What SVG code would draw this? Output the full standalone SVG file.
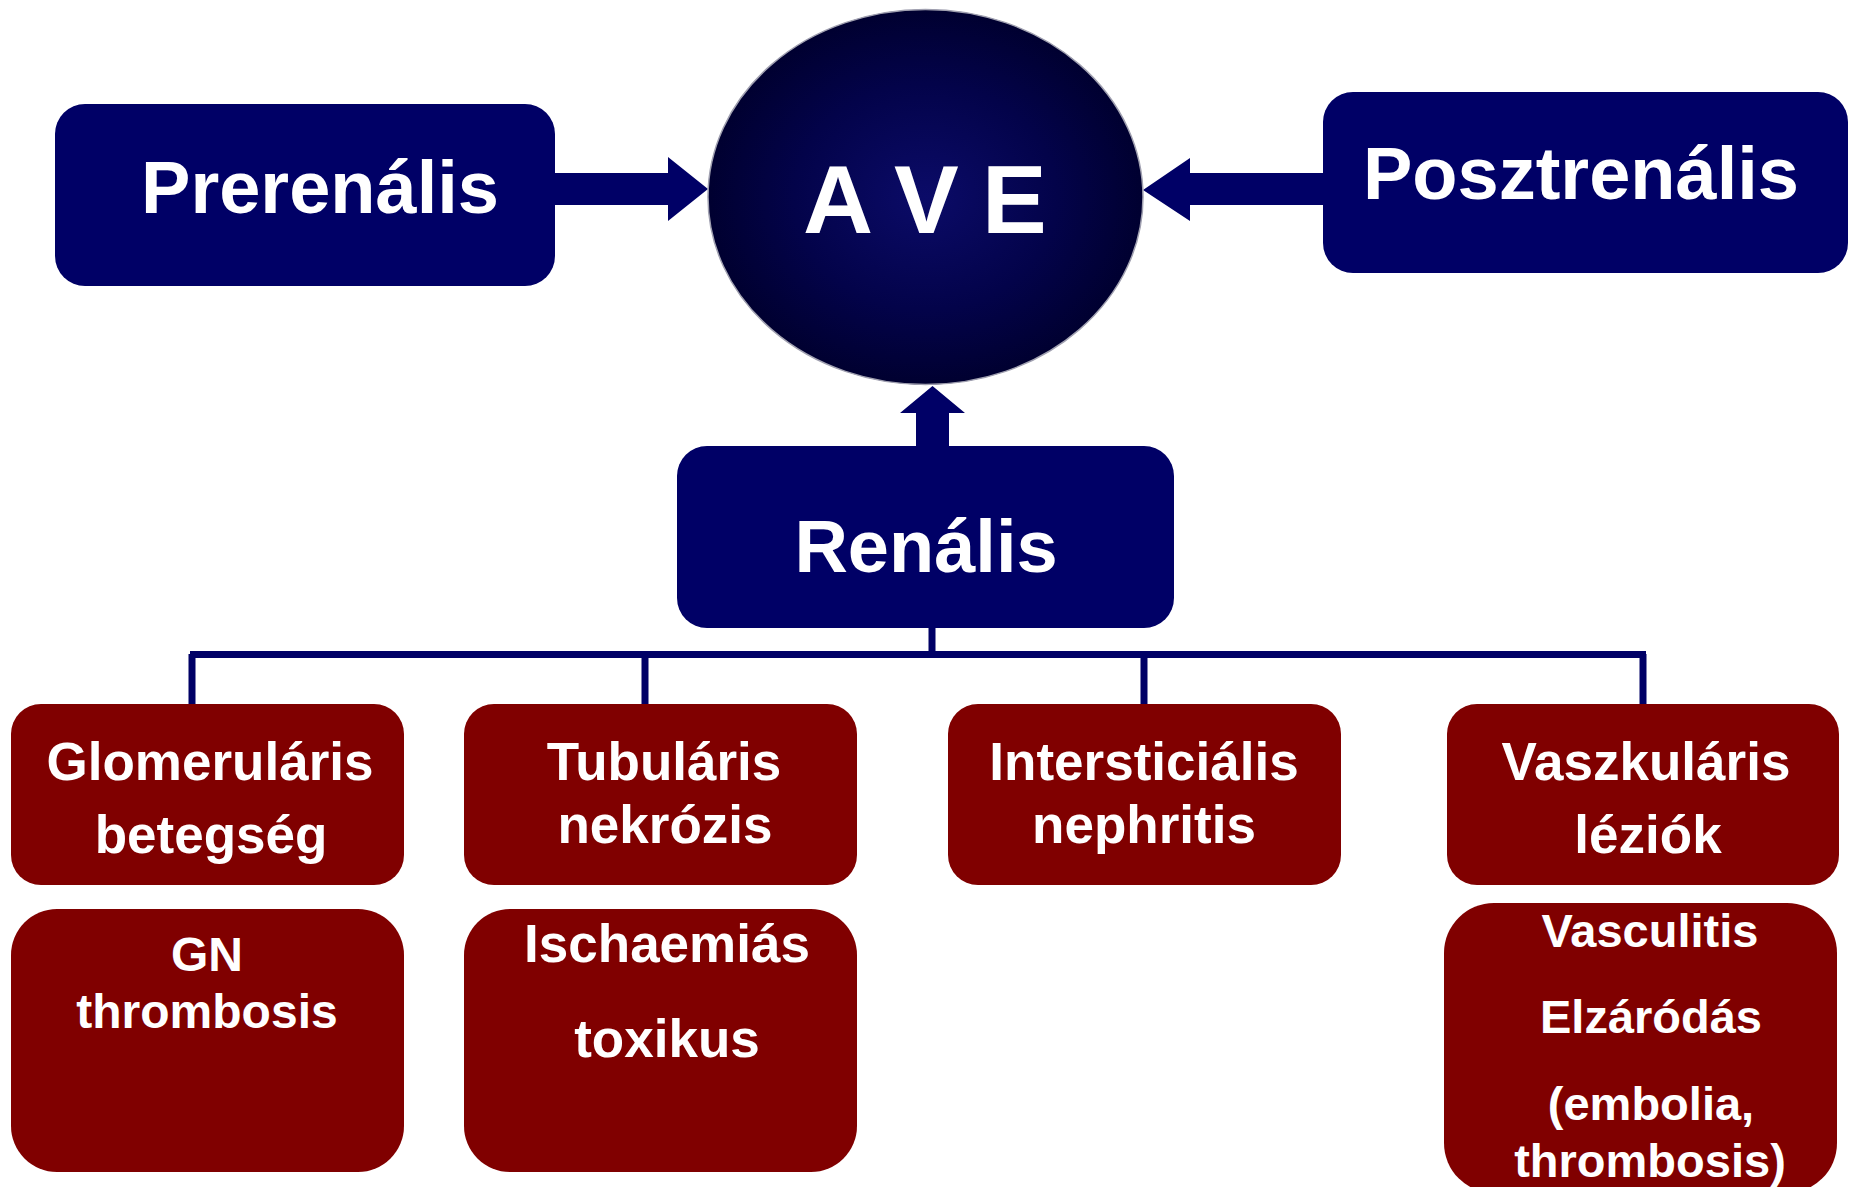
<svg xmlns="http://www.w3.org/2000/svg" width="1851" height="1187" viewBox="0 0 1851 1187">
<style>
.nav{fill:#000066}
.red{fill:#800000}
.t{font-family:"Liberation Sans",Arial,sans-serif;font-weight:bold;fill:#fff;text-anchor:middle}
.conn{stroke:#000066;stroke-width:7;fill:none}
</style>
<defs>
<radialGradient id="g" cx="50%" cy="50%" r="50%">
<stop offset="0" stop-color="#0b0b68"/>
<stop offset="0.6" stop-color="#03034a"/>
<stop offset="1" stop-color="#000030"/>
</radialGradient>
</defs>
<rect width="1851" height="1187" fill="#fff"/>
<g id="connectors">
<polygon class="nav" points="555,173 668,173 668,157 708,189 668,221 668,205 555,205"/>
<polygon class="nav" points="1323,173 1190,173 1190,158 1143,190 1190,221 1190,205 1323,205"/>
<polygon class="nav" points="916,446 916,413 900,413 932.5,386 965,413 949,413 949,446"/>
<path class="conn" d="M932,628V655M190,654.5H1646M192,654V704M645,654V704M1144,654V704M1643,654V704"/>
</g>
<g id="ave">
<ellipse cx="925.5" cy="197" rx="217.5" ry="187.5" fill="url(#g)" stroke="#a0a0b0" stroke-width="1.5"/>
<text class="t" style="text-anchor:start" font-size="97" y="233"><tspan x="803">A</tspan><tspan x="894">V</tspan><tspan x="982">E</tspan></text>
</g>
<g id="prerenalis">
<rect class="nav" x="55" y="104" width="500" height="182" rx="30"/>
<text class="t" x="320" y="213" font-size="74">Prerenális</text>
</g>
<g id="posztrenalis">
<rect class="nav" x="1323" y="92" width="525" height="181" rx="30"/>
<text class="t" x="1581" y="199" font-size="74">Posztrenális</text>
</g>
<g id="renalis">
<rect class="nav" x="677" y="446" width="497" height="182" rx="30"/>
<text class="t" x="926" y="572" font-size="74">Renális</text>
</g>
<g id="glomerularis">
<rect class="red" x="11" y="704" width="393" height="181" rx="30"/>
<text class="t" x="210" y="780" font-size="53">Glomeruláris</text>
<text class="t" x="211" y="853" font-size="53">betegség</text>
</g>
<g id="tubularis">
<rect class="red" x="464" y="704" width="393" height="181" rx="30"/>
<text class="t" x="664" y="780" font-size="53">Tubuláris</text>
<text class="t" x="665" y="843" font-size="53">nekrózis</text>
</g>
<g id="intersticialis">
<rect class="red" x="948" y="704" width="393" height="181" rx="30"/>
<text class="t" x="1144" y="780" font-size="53">Intersticiális</text>
<text class="t" x="1144" y="843" font-size="53">nephritis</text>
</g>
<g id="vaszkularis">
<rect class="red" x="1447" y="704" width="392" height="181" rx="30"/>
<text class="t" x="1646" y="780" font-size="53">Vaszkuláris</text>
<text class="t" x="1648" y="853" font-size="53">léziók</text>
</g>
<g id="gn">
<rect class="red" x="11" y="909" width="393" height="263" rx="46"/>
<text class="t" x="207" y="971" font-size="48">GN</text>
<text class="t" x="207" y="1028" font-size="48">thrombosis</text>
</g>
<g id="ischaemias">
<rect class="red" x="464" y="909" width="393" height="263" rx="46"/>
<text class="t" x="667" y="962" font-size="53">Ischaemiás</text>
<text class="t" x="667" y="1057" font-size="53">toxikus</text>
</g>
<g id="vasculitis">
<rect class="red" x="1444" y="903" width="393" height="290" rx="50"/>
<text class="t" x="1650" y="947" font-size="47">Vasculitis</text>
<text class="t" x="1651" y="1033" font-size="47">Elzáródás</text>
<text class="t" x="1651" y="1120" font-size="47">(embolia,</text>
<text class="t" x="1650" y="1177" font-size="47">thrombosis)</text>
</g>
</svg>
